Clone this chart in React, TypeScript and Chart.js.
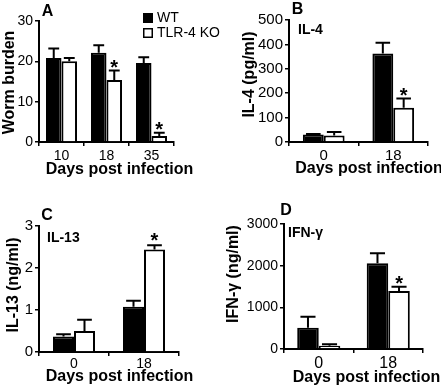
import React, { useEffect, useRef } from "react";
import { Chart, registerables } from "chart.js";

Chart.register(...registerables);

const FONT = "Arial, 'Liberation Sans', Helvetica, sans-serif";

// Series
const seriesNames = ["WT", "TLR-4 KO"];
const xTitle = "Days post infection";

// Panel A: worm burden
const daysA = ["10", "18", "35"];
const wormWT = [20.8, 22.1, 19.6];
const wormWTErr = [2.4, 1.9, 1.4];
const wormKO = [20.0, 15.4, 1.5];
const wormKOErr = [0.8, 2.3, 0.8];
const wormKOSig = [false, true, true];
const wormTicks = [0, 10, 20, 30];

// Panel B: IL-4 (pg/ml)
const daysB = ["0", "18"];
const il4WT = [31, 363];
const il4WTErr = [2, 44];
const il4KO = [27, 140];
const il4KOErr = [14, 38];
const il4KOSig = [false, true];
const il4Ticks = [0, 100, 200, 300, 400, 500];

// Panel C: IL-13 (ng/ml)
const daysC = ["0", "18"];
const il13WT = [0.37, 1.08];
const il13WTErr = [0.05, 0.14];
const il13KO = [0.5, 2.44];
const il13KOErr = [0.27, 0.1];
const il13KOSig = [false, true];
const il13Ticks = [0, 1, 2, 3];

// Panel D: IFN-γ (ng/ml)
const daysD = ["0", "18"];
const ifnWT = [511, 2057];
const ifnWTErr = [264, 240];
const ifnKO = [79, 1392];
const ifnKOErr = [34, 103];
const ifnKOSig = [false, true];
const ifnTicks = [0, 1000, 2000, 3000];

const noSig = (n: number) => new Array(n).fill(false);

type PanelCfg = {
  id: string;
  x: number; y: number; w: number; h: number;
  area: { left: number; right: number; top: number; bottom: number };
  labels: string[];
  wt: number[]; wtErr: number[]; ko: number[]; koErr: number[]; koSig: boolean[];
  ticks: number[];
  catPct: number;
  yTickSize: number; xTickSize: number; xTickPad: number;
  texts: { t: string; x: number; y: number; size: number; bold: boolean; align?: CanvasTextAlign; rot?: boolean }[];
  starGap: number;
  legend?: boolean;
};

const panels: PanelCfg[] = [
  {
    id: "A", x: 0, y: 0, w: 220, h: 195,
    area: { left: 39, right: 174, top: 21, bottom: 142 },
    labels: daysA, wt: wormWT, wtErr: wormWTErr, ko: wormKO, koErr: wormKOErr, koSig: wormKOSig,
    ticks: wormTicks, catPct: 0.69, yTickSize: 14, xTickSize: 14, xTickPad: 2, starGap: 8,
    legend: true,
    texts: [
      { t: "A", x: 47.5, y: 12, size: 16, bold: true },
      { t: "Worm burden", x: 9.5, y: 82.5, size: 16, bold: true, rot: true },
      { t: xTitle, x: 119.5, y: 170, size: 16, bold: true },
    ],
  },
  {
    id: "B", x: 220, y: 0, w: 221, h: 195,
    area: { left: 69, right: 208, top: 20, bottom: 142 },
    labels: daysB, wt: il4WT, wtErr: il4WTErr, ko: il4KO, koErr: il4KOErr, koSig: il4KOSig,
    ticks: il4Ticks, catPct: 0.6, yTickSize: 15, xTickSize: 15, xTickPad: 1, starGap: 8,
    texts: [
      { t: "B", x: 77.5, y: 10, size: 16, bold: true },
      { t: "IL-4", x: 78, y: 30, size: 14, bold: true, align: "left" },
      { t: "IL-4 (pg/ml)", x: 30, y: 74.5, size: 16, bold: true, rot: true },
      { t: xTitle, x: 149, y: 169, size: 16, bold: true },
    ],
  },
  {
    id: "C", x: 0, y: 195, w: 220, h: 195,
    area: { left: 39, right: 179, top: 31, bottom: 157 },
    labels: daysC, wt: il13WT, wtErr: il13WTErr, ko: il13KO, koErr: il13KOErr, koSig: il13KOSig,
    ticks: il13Ticks, catPct: 0.6, yTickSize: 15, xTickSize: 14, xTickPad: 0, starGap: 10,
    texts: [
      { t: "C", x: 47, y: 21, size: 16, bold: true },
      { t: "IL-13", x: 47, y: 43.5, size: 14, bold: true, align: "left" },
      { t: "IL-13 (ng/ml)", x: 14, y: 90, size: 16, bold: true, rot: true },
      { t: xTitle, x: 119.5, y: 182, size: 16, bold: true },
    ],
  },
  {
    id: "D", x: 220, y: 195, w: 221, h: 195,
    area: { left: 64, right: 203, top: 29, bottom: 154 },
    labels: daysD, wt: ifnWT, wtErr: ifnWTErr, ko: ifnKO, koErr: ifnKOErr, koSig: ifnKOSig,
    ticks: ifnTicks, catPct: 0.62, yTickSize: 14, xTickSize: 16, xTickPad: 1, starGap: 8,
    texts: [
      { t: "D", x: 66, y: 16, size: 16, bold: true },
      { t: "IFN-γ", x: 68, y: 38, size: 14, bold: true, align: "left" },
      { t: "IFN-γ (ng/ml)", x: 14, y: 79, size: 16, bold: true, rot: true },
      { t: xTitle, x: 146.5, y: 183, size: 16, bold: true },
    ],
  },
];

const decor = {
  id: "decor",
  afterDatasetsDraw(chart: any, _args: any, opts: any) {
    const ctx = chart.ctx;
    const ys = chart.scales.y;
    chart.data.datasets.forEach((ds: any, i: number) => {
      const meta = chart.getDatasetMeta(i);
      meta.data.forEach((bar: any, j: number) => {
        const v = ds.data[j];
        const e = ds.err[j];
        const top = ys.getPixelForValue(v + e);
        const cap = bar.width * 0.7;
        ctx.save();
        ctx.strokeStyle = "#000";
        ctx.lineWidth = 2;
        ctx.beginPath();
        ctx.moveTo(bar.x, bar.y);
        ctx.lineTo(bar.x, top);
        ctx.moveTo(bar.x - cap / 2, top);
        ctx.lineTo(bar.x + cap / 2, top);
        ctx.stroke();
        if (ds.sig[j]) {
          const size = 20;
          ctx.fillStyle = "#000";
          ctx.font = `bold ${size}px ${FONT}`;
          ctx.textAlign = "center";
          ctx.textBaseline = "alphabetic";
          ctx.fillText("*", bar.x, top - opts.starGap + 0.57 * size);
        }
        ctx.restore();
      });
    });
  },
  afterDraw(chart: any, _args: any, opts: any) {
    const ctx = chart.ctx;
    ctx.save();
    ctx.fillStyle = "#000";
    (opts.texts || []).forEach((tx: any) => {
      ctx.save();
      ctx.font = `${tx.bold ? "bold " : ""}${tx.size}px ${FONT}`;
      ctx.textAlign = tx.align || "center";
      ctx.textBaseline = "middle";
      ctx.translate(tx.x, tx.y);
      if (tx.rot) ctx.rotate(-Math.PI / 2);
      ctx.fillText(tx.t, 0, 0);
      ctx.restore();
    });
    if (opts.legend) {
      const dsets = chart.data.datasets;
      dsets.forEach((ds: any, i: number) => {
        const ry = 13 + i * 15;
        ctx.fillStyle = ds.borderColor;
        ctx.fillRect(143, ry, 10, 10);
        ctx.fillStyle = ds.backgroundColor;
        ctx.fillRect(144.5, ry + 1.5, 7, 7);
        ctx.fillStyle = "#000";
        ctx.font = `14px ${FONT}`;
        ctx.textAlign = "left";
        ctx.textBaseline = "middle";
        ctx.fillText(ds.label, 157, ry + 5.5);
      });
    }
    ctx.restore();
  },
};

function buildConfig(p: PanelCfg): any {
  const step = p.ticks[1] - p.ticks[0];
  const axisCommon = {
    border: { display: true, color: "#000", width: 2 },
    grid: { display: true, drawOnChartArea: false, drawTicks: true, tickLength: 4, color: "#000", lineWidth: 1.5 },
  };
  return {
    type: "bar",
    data: {
      labels: p.labels,
      datasets: [
        {
          label: seriesNames[0], data: p.wt, err: p.wtErr, sig: noSig(p.wt.length),
          backgroundColor: "#000", borderColor: "#000", borderWidth: 2, borderSkipped: "start",
          categoryPercentage: p.catPct, barPercentage: 1,
        },
        {
          label: seriesNames[1], data: p.ko, err: p.koErr, sig: p.koSig,
          backgroundColor: "#fff", borderColor: "#000", borderWidth: 2, borderSkipped: "start",
          categoryPercentage: p.catPct, barPercentage: 1,
        },
      ],
    },
    options: {
      animation: false,
      responsive: false,
      devicePixelRatio: 1,
      layout: { padding: { left: 0, top: p.area.top, right: p.w - p.area.right, bottom: 0 } },
      plugins: {
        legend: { display: false },
        tooltip: { enabled: false },
        decor: { texts: p.texts, legend: !!p.legend, starGap: p.starGap },
      },
      scales: {
        x: {
          type: "category",
          offset: true,
          ...axisCommon,
          grid: { ...axisCommon.grid, offset: true },
          ticks: { color: "#000", font: { family: FONT, size: p.xTickSize }, padding: p.xTickPad, maxRotation: 0, autoSkip: false },
          afterFit: (s: any) => { s.height = p.h - p.area.bottom; },
        },
        y: {
          min: p.ticks[0],
          max: p.ticks[p.ticks.length - 1],
          ...axisCommon,
          ticks: {
            color: "#000", stepSize: step, font: { family: FONT, size: p.yTickSize }, padding: 2,
            callback: (v: any) => String(v),
          },
          afterFit: (s: any) => { s.width = p.area.left; },
        },
      },
    },
    plugins: [decor],
  };
}

function Panel({ p }: { p: PanelCfg }) {
  const ref = useRef<HTMLCanvasElement | null>(null);
  useEffect(() => {
    if (!ref.current) return;
    const chart = new Chart(ref.current, buildConfig(p));
    return () => chart.destroy();
  }, [p]);
  return (
    <canvas
      ref={ref}
      width={p.w}
      height={p.h}
      style={{ position: "absolute", left: p.x, top: p.y, width: p.w, height: p.h }}
    />
  );
}

export default function App() {
  return (
    <div style={{ position: "absolute", left: 0, top: 0, width: 441, height: 390, background: "#fff", overflow: "hidden" }}>
      {panels.map((p) => (
        <Panel key={p.id} p={p} />
      ))}
    </div>
  );
}
